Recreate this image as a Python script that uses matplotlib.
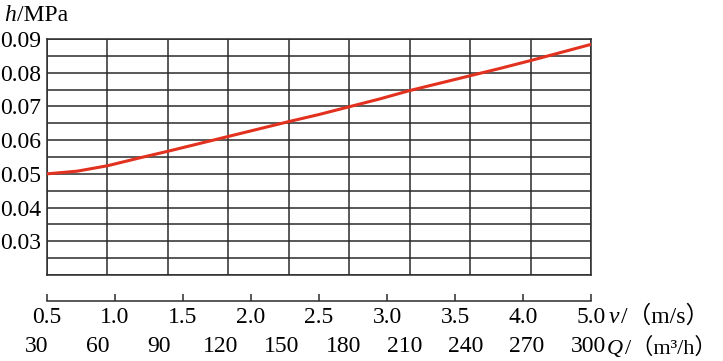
import matplotlib
matplotlib.use("Agg")
import matplotlib.pyplot as plt
import numpy as np

# ---- data ----
curve_Q = [30, 45, 60, 75, 90, 105, 120, 135, 150, 165, 180, 195, 210, 225, 240, 255, 270, 285, 300]
curve_h = [0.0500, 0.0508, 0.0524, 0.0546, 0.0567, 0.0589, 0.0611, 0.0633, 0.0655, 0.0676,
           0.0699, 0.0722, 0.0747, 0.0769, 0.0791, 0.0813, 0.0836, 0.0860, 0.0884]
Q_ticks = [30, 60, 90, 120, 150, 180, 210, 240, 270, 300]
q_tick_labels = ["30", "60", "90", "120", "150", "180", "210", "240", "270", "300"]
v_tick_labels = ["0.5", "1.0", "1.5", "2.0", "2.5", "3.0", "3.5", "4.0", "5.0"]
y_tick_values = [0.03, 0.04, 0.05, 0.06, 0.07, 0.08, 0.09]

W, H = 723, 361
fig = plt.figure(figsize=(W / 100, H / 100), dpi=100)
plt.rcParams['font.family'] = ['Liberation Serif', 'Noto Sans CJK SC', 'DejaVu Sans']

def fx(px):
    return px / W

def fy(py):
    return 1 - py / H

gc = "#2b2b2b"
fs = 17

# main axes: px 47..591 horizontally, 39..275 vertically
ax = fig.add_axes([fx(47), fy(275), fx(591) - fx(47), fy(39) - fy(275)])
ax.set_xlim(30, 300)
ax.set_ylim(0.02, 0.09)
ax.set_xticks(Q_ticks)
ax.set_yticks(np.arange(0.02, 0.0901, 0.005), minor=True)
ax.set_yticks(y_tick_values)
ax.set_yticklabels([f"{v:.2f}" for v in y_tick_values], fontsize=fs)
ax.tick_params(axis='x', length=0, labelbottom=False)
ax.tick_params(axis='y', which='both', length=0, pad=4)
ax.grid(True, which='both', color=gc, linewidth=1.1)
for s in ax.spines.values():
    s.set_color(gc)
    s.set_linewidth(1.1)
ax.plot(curve_Q, curve_h, color="#e2321f", linewidth=2.2, zorder=5, solid_capstyle='round')

# velocity axis (separate line below)
bax = fig.add_axes([fx(47), fy(301), fx(591) - fx(47), 0.0001])
bax.set_xlim(0, len(v_tick_labels) - 1)
bax.set_xticks(range(len(v_tick_labels)))
bax.set_xticklabels(v_tick_labels, fontsize=fs)
bax.set_yticks([])
for side in ['top', 'left', 'right']:
    bax.spines[side].set_visible(False)
bax.spines['bottom'].set_color(gc)
bax.spines['bottom'].set_linewidth(1.1)
bax.tick_params(axis='x', direction='in', length=5, width=1.1, color=gc, pad=4)
bax.patch.set_visible(False)

# flow rate labels
qax = fig.add_axes([fx(37), fy(347), fx(588) - fx(37), 0.0001])
qax.set_xlim(Q_ticks[0], Q_ticks[-1])
qax.axis('off')
for q, lab in zip(Q_ticks, q_tick_labels):
    qax.text(q, 0.5, lab, fontsize=fs, ha='center', va='center', transform=qax.get_xaxis_transform())

fig.canvas.draw()
renderer = fig.canvas.get_renderer()

def chain(x_px, y_px, parts, size):
    """Place consecutive text pieces, each starting where the previous one ends."""
    x = x_px
    for txt, style in parts:
        t = fig.text(fx(x), fy(y_px), txt, fontsize=size, style=style, va='baseline', ha='left')
        bb = t.get_window_extent(renderer)
        x = bb.x1 + (1.5 if style == 'italic' else 0)

chain(4, 21, [("h", 'italic'), ("/MPa", 'normal')], fs)
chain(609, 323, [("v", 'italic'), ("/（m/s）", 'normal')], fs)
chain(607, 354, [("Q", 'italic'), ("/（m³/h）", 'normal')], 16)

fig.savefig("out.png", dpi=100)
